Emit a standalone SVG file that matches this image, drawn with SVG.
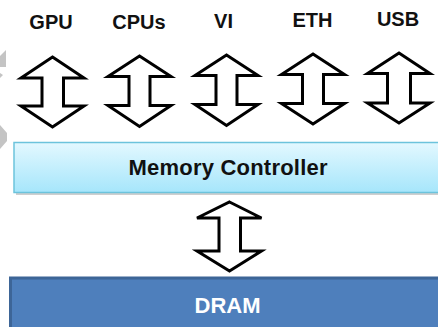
<svg xmlns="http://www.w3.org/2000/svg" width="438" height="327" viewBox="0 0 438 327">
  <defs>
    <linearGradient id="mcGrad" x1="0" y1="0" x2="0" y2="1">
      <stop offset="0" stop-color="#e3f8ff"/>
      <stop offset="1" stop-color="#a6e6fb"/>
    </linearGradient>
    <style>
      .lbl { font-family: "Liberation Sans", Arial, sans-serif; font-weight: bold; font-size: 20px; fill: #111; text-anchor: middle; }
      .arrow { fill: #fff; stroke: #000; stroke-width: 3; stroke-linejoin: miter; }
      .ghost { fill: #c4c4c4; }
    </style>
  </defs>
  <rect width="438" height="327" fill="#fff"/>

  <!-- faint background fragments on the left edge -->
  <polygon class="ghost" points="6,50 6,67 0,67 0,56"/>
  <polygon class="ghost" points="0,73 3,75 0,78"/>
  <polygon class="ghost" points="0,125 7,133 7,141 0,149"/>

  <g id="gpu">
    <text class="lbl" x="51" y="29">GPU</text>
  </g>
  <g id="cpus">
    <text class="lbl" x="139" y="28.5">CPUs</text>
  </g>
  <g id="vi">
    <text class="lbl" x="223.5" y="28">VI</text>
  </g>
  <g id="eth">
    <text class="lbl" x="312.5" y="27">ETH</text>
  </g>
  <g id="usb">
    <text class="lbl" x="398" y="26">USB</text>
  </g>

  <g id="memory-controller">
    <rect x="16" y="146" width="430" height="49" fill="#cfcfcf"/>
    <rect x="14" y="142.5" width="430" height="50" fill="url(#mcGrad)" stroke="#6cc3dc" stroke-width="1.5"/>
    <text class="lbl" x="228" y="174.5" font-size="22" style="font-size:22px" textLength="199">Memory Controller</text>
  </g>

  <g id="dram">
    <rect x="9" y="276.5" width="440" height="60" fill="#3d6597"/>
    <rect x="12" y="279.5" width="440" height="60" fill="#4e7fbc"/>
    <text x="227.5" y="313" style="font-family:'Liberation Sans', Arial, sans-serif; font-weight:bold; font-size:22px; fill:#fff; text-anchor:middle;">DRAM</text>
  </g>

  <g id="connectors">
    <polygon class="arrow" points="52.5,57 84,78 63.5,78 63.5,106 84,106 52.5,127 21,106 42,106 42,78 21,78"/>
    <polygon class="arrow" points="139.5,56 171,76.5 150,76.5 150,105.5 171,105.5 139.5,126.5 108,105.5 129,105.5 129,76.5 108,76.5"/>
    <polygon class="arrow" points="226.5,55 258,75.5 237,75.5 237,104.5 258,104.5 226.5,125.5 195,104.5 216,104.5 216,75.5 195,75.5"/>
    <polygon class="arrow" points="313,54 344.5,74.5 323.5,74.5 323.5,103.5 344.5,103.5 313,124 281.5,103.5 302.5,103.5 302.5,74.5 281.5,74.5"/>
    <polygon class="arrow" points="399,53 430,73.5 410.5,73.5 410.5,103 430,103 399,123 367.5,103 387.5,103 387.5,73.5 367.5,73.5"/>
    <polygon class="arrow" points="229.5,202 261.5,218 240.5,218 240.5,251 261.5,251 229.5,271 197,251 219,251 219,218 197,218"/>
  </g>
</svg>
